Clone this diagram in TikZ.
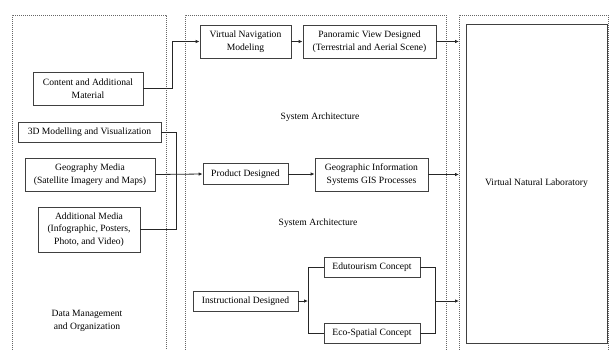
\documentclass[tikz,border=0pt]{standalone}
\usepackage{fontspec}
\setmainfont{Liberation Serif}
\usetikzlibrary{arrows.meta,calc}
\begin{document}
\begin{tikzpicture}[x=1pt,y=-1pt,
  box/.style={draw=black!75,line width=0.8pt,rectangle,inner sep=0pt,align=center,font=\fontsize{9.6}{12.8}\selectfont},
  lbl/.style={inner sep=0pt,align=center,font=\fontsize{9.6}{12.8}\selectfont},
  ln/.style={draw=black!85,line width=0.8pt},
  arr/.style={ln,-{Latex[length=4pt,width=3.5pt]}},
  cont/.style={draw=black!60,line width=1pt,dash pattern=on 1pt off 1pt}]
\useasboundingbox (0,0) rectangle (609,349);
% containers
\draw[cont] (12,352) -- (12,15) -- (166,15) -- (166,352);
\draw[cont] (185,352) -- (185,15) -- (446,15) -- (446,352);
\draw[cont] (459,352) -- (459,15) -- (608,15) -- (608,352);
\coordinate (rc) at (459,0);
% left column
\node[box,minimum width=110pt,minimum height=33pt] (content) at (88,88.5) {Content  and Additional\\Material};
\node[box,minimum width=143pt,minimum height=20pt] (model3d) at (89.5,132) {3D Modelling  and Visualization};
\node[box,minimum width=130pt,minimum height=33pt] (geo) at (90,174.5) {Geography  Media\\(Satellite  Imagery  and Maps)};
\node[box,minimum width=102pt,minimum height=45pt] (addmedia) at (89,229.5) {Additional  Media\\(Infographic,  Posters,\\Photo, and Video)};
\node[lbl] (dm) at (87,320.5) {Data Management\\ and Organization};
% middle column
\node[box,minimum width=91pt,minimum height=33pt] (vnav) at (245.5,41.5) {Virtual  Navigation\\Modeling};
\node[box,minimum width=133pt,minimum height=33pt] (pano) at (369.5,41.5) {Panoramic  View  Designed\\(Terrestrial  and Aerial  Scene)};
\node[lbl] (sa1) at (320,117) {System  Architecture};
\node[box,minimum width=85pt,minimum height=21pt] (prod) at (245.5,174) {Product Designed};
\node[box,minimum width=113pt,minimum height=33pt] (gis) at (371.5,174.5) {Geographic  Information\\Systems  GIS  Processes};
\node[lbl] (sa2) at (318,223) {System  Architecture};
\node[box,minimum width=105pt,minimum height=20pt] (instr) at (245.5,301) {Instructional  Designed};
\node[box,minimum width=96pt,minimum height=20pt] (edu) at (372,267) {Edutourism  Concept};
\node[box,minimum width=96pt,minimum height=20pt] (eco) at (372,333) {Eco-Spatial  Concept};
% right
\node[box,minimum width=141pt,minimum height=319pt] (vnl) at (536.5,183.5) {Virtual  Natural  Laboratory};
% connectors
\coordinate (j1) at (172,0);
\coordinate (j2) at (176,0);
\coordinate (jl) at (308,301);
\coordinate (jr) at (435,301);
\draw[arr] (content.east) -| (j1 |- vnav.west) -- (vnav.west);
\draw[ln] (model3d.east) -| (j2 |- addmedia.east) -- (addmedia.east);
\draw[arr] (geo.east) -- (prod.west);
\draw[arr] (vnav.east) -- (pano.west);
\draw[arr] (prod.east) -- (prod.east -| gis.west);
\draw[arr] (pano.east) -- (rc |- pano.east);
\draw[arr] (gis.east) -- (rc |- gis.east);
\draw[arr] (instr.east) -- (jl);
\draw[ln] (edu.west) -| (jl |- eco.west) -- (eco.west);
\draw[ln] (edu.east) -| (jr |- eco.east) -- (eco.east);
\draw[arr] (jr) -- (rc |- jr);
\end{tikzpicture}
\end{document}
